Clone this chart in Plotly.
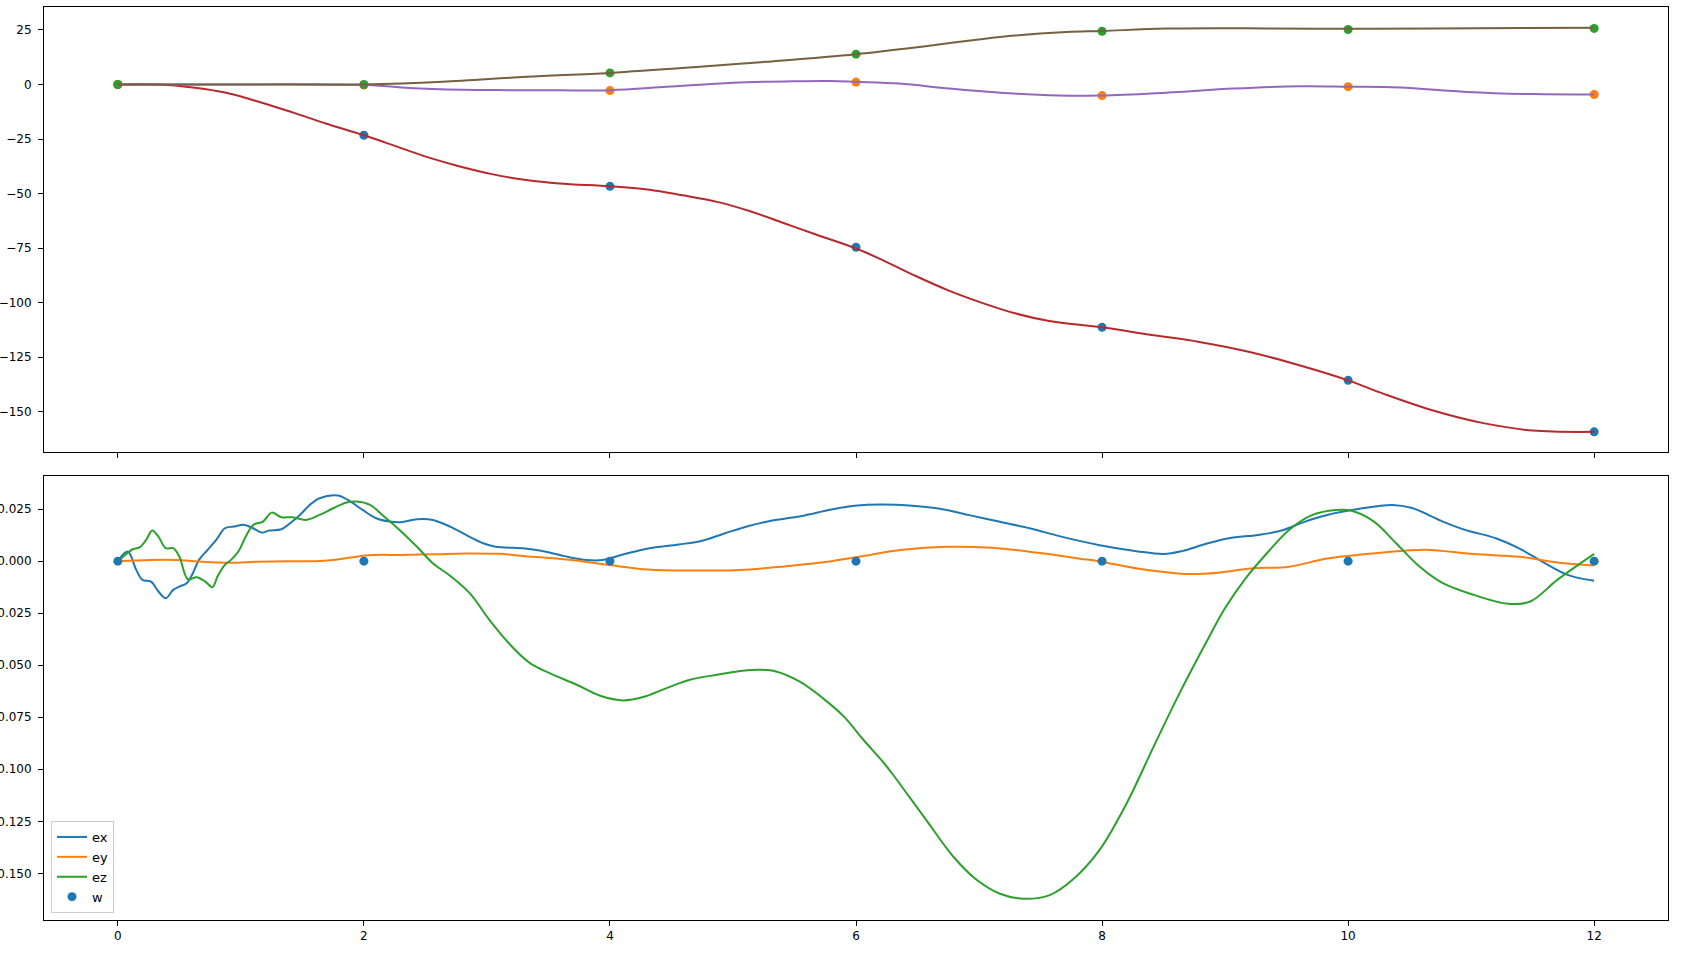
import plotly.graph_objects as go

# ---------------- data ----------------
# waypoints (top panel scatter), x positions
t_way = [0, 2, 4, 6, 8, 10, 12]
wx_pts = [0, -23.3, -46.7, -74.6, -111.3, -135.6, -159.2]
wy_pts = [0, -0.3, -2.8, 1.1, -5.1, -1.0, -4.6]
wz_pts = [0, 0, 5.3, 13.9, 24.4, 25.2, 25.7]

# top panel curves
tx_line = [0, 0.34, 0.61, 0.88, 1.15, 1.42, 1.69, 2.0, 2.24, 2.51, 2.78, 3.05, 3.32, 3.59, 4.0,
           4.32, 4.59, 4.87, 5.14, 5.41, 5.68, 6.0, 6.22, 6.49, 6.76, 7.03, 7.3, 7.57, 8.0,
           8.39, 8.79, 9.2, 9.61, 10.0, 10.29, 10.69, 11.1, 11.5, 12.0]
wx_line = [0, 0, -1.4, -3.8, -8.0, -12.8, -17.9, -23.3, -27.9, -33.2, -37.6, -41.2, -43.8, -45.4, -46.7,
           -48.2, -50.8, -53.8, -58.1, -63.5, -68.9, -75.2, -80.6, -87.9, -94.6, -100.2, -105.0, -108.4, -111.3,
           -114.7, -118.0, -122.6, -128.8, -135.6, -141.8, -149.4, -155.2, -158.6, -159.2]

ty_line = [0, 1.0, 2.0, 2.37, 2.8, 3.18, 3.6, 4.0, 4.46, 5.0, 5.5, 5.8, 6.0, 6.35, 6.76, 7.17, 7.57, 8.0,
           8.52, 9.07, 9.61, 10.0, 10.42, 10.96, 11.5, 12.0]
wy_line = [0, 0, -0.1, -1.6, -2.4, -2.6, -2.7, -2.6, -1.1, 0.8, 1.5, 1.6, 1.2, 0.4, -1.9, -3.8, -4.9, -5.1,
           -3.8, -1.9, -0.8, -1.0, -1.4, -3.4, -4.4, -4.6]

tz_line = [0, 1.0, 2.0, 2.64, 3.32, 4.0, 4.73, 5.27, 6.0, 6.63, 7.17, 7.71, 8.0, 8.52, 9.34, 10.0, 10.69, 12.0]
wz_line = [0, 0, 0, 1.2, 3.5, 5.3, 8.1, 10.4, 13.9, 18.0, 21.8, 24.0, 24.5, 25.6, 25.7, 25.5, 25.7, 26.0]

# bottom panel curves
t_ex = [0, 0.08, 0.15, 0.2, 0.27, 0.33, 0.39, 0.45, 0.5, 0.56, 0.61, 0.66, 0.73, 0.8, 0.87, 0.94, 1.03,
        1.1, 1.17, 1.23, 1.33, 1.4, 1.48, 1.56, 1.64, 1.79, 1.87, 1.99, 2.1, 2.21, 2.3, 2.43, 2.56, 2.7,
        2.83, 2.97, 3.07, 3.31, 3.44, 3.63, 3.81, 3.94, 4.12, 4.31, 4.56, 4.75, 4.93, 5.12, 5.31, 5.55,
        5.8, 5.99, 6.21, 6.43, 6.67, 6.92, 7.17, 7.42, 7.66, 7.97, 8.28, 8.5, 8.65, 8.84, 9.03, 9.27,
        9.46, 9.65, 9.83, 10.08, 10.36, 10.52, 10.77, 10.95, 11.2, 11.39, 11.58, 11.79, 12.0]
ex = [0, 0.0046, -0.0042, -0.009, -0.0098, -0.0146, -0.0178, -0.0138, -0.0122, -0.0106, -0.0058, 0.0006,
      0.0054, 0.0102, 0.0158, 0.0166, 0.0174, 0.0158, 0.0137, 0.0147, 0.0153, 0.0182, 0.0222, 0.027, 0.0302,
      0.0315, 0.0294, 0.0246, 0.0206, 0.019, 0.0187, 0.0201, 0.0198, 0.0166, 0.0126, 0.0086, 0.0069, 0.0061,
      0.005, 0.0024, 0.0005, 0.0005, 0.0034, 0.0061, 0.008, 0.0098, 0.0133, 0.0168, 0.0194, 0.0216, 0.0248,
      0.0266, 0.0272, 0.0267, 0.0253, 0.0221, 0.0189, 0.0157, 0.0119, 0.0078, 0.0048, 0.0034, 0.0048,
      0.0082, 0.011, 0.0126, 0.0147, 0.019, 0.0222, 0.025, 0.027, 0.0255, 0.019, 0.015, 0.011, 0.0061,
      -0.0003, -0.0067, -0.0094]

t_ey = [0, 0.26, 0.47, 0.66, 0.91, 1.13, 1.37, 1.61, 1.75, 1.91, 2.07, 2.29, 2.56, 2.83, 3.1, 3.31,
        3.69, 4.0, 4.31, 4.68, 5.06, 5.43, 5.8, 6.05, 6.36, 6.74, 7.11, 7.48, 7.66, 7.82, 7.97, 8.34,
        8.71, 8.96, 9.21, 9.52, 9.83, 10.15, 10.46, 10.64, 11.02, 11.39, 11.7, 12.0]
ey = [0, 0.0006, 0.0006, -0.0002, -0.0008, -0.0003, 0, 0, 0.0006, 0.0019, 0.0029, 0.003, 0.0033, 0.0037,
      0.0035, 0.0024, 0.0005, -0.0019, -0.004, -0.0045, -0.0043, -0.0024, 0, 0.0024, 0.0053, 0.0069,
      0.0064, 0.004, 0.0026, 0.0012, 0, -0.004, -0.0062, -0.0054, -0.0035, -0.0027, 0.0013, 0.0034,
      0.005, 0.0055, 0.0034, 0.0021, -0.0006, -0.0021]

t_ez = [0, 0.07, 0.12, 0.18, 0.23, 0.28, 0.33, 0.39, 0.45, 0.5, 0.57, 0.64, 0.71, 0.77, 0.81, 0.87,
        0.92, 0.98, 1.04, 1.1, 1.18, 1.25, 1.33, 1.42, 1.53, 1.64, 1.75, 1.86, 1.94, 2.05, 2.15, 2.29,
        2.43, 2.56, 2.7, 2.86, 3.02, 3.19, 3.35, 3.51, 3.73, 3.92, 4.11, 4.27, 4.46, 4.65, 4.87, 5.08,
        5.22, 5.35, 5.54, 5.73, 5.9, 6.06, 6.22, 6.3, 6.43, 6.57, 6.79, 6.98, 7.17, 7.37, 7.58, 7.76, 7.98,
        8.2, 8.42, 8.63, 8.85, 9.0, 9.17, 9.34, 9.52, 9.71, 9.9, 10.02, 10.21, 10.39, 10.58, 10.77,
        11.02, 11.3, 11.48, 11.7, 12.0]
ez = [0, 0.0035, 0.0057, 0.0067, 0.0102, 0.0147, 0.0118, 0.0062, 0.0062, 0.0022, -0.0087, -0.0077,
      -0.0098, -0.0125, -0.0074, -0.0018, 0.0006, 0.0046, 0.0118, 0.0174, 0.019, 0.0233, 0.0211, 0.0211,
      0.0198, 0.0222, 0.0254, 0.0282, 0.0286, 0.027, 0.0222, 0.015, 0.007, -0.001, -0.007, -0.0154,
      -0.0282, -0.0402, -0.049, -0.0538, -0.0594, -0.0647, -0.0669, -0.0653, -0.061, -0.057, -0.0546,
      -0.0527, -0.0522, -0.053, -0.0578, -0.0658, -0.0746, -0.0858, -0.0965, -0.1025, -0.113, -0.1243, -0.1419,
      -0.1531, -0.1598, -0.1622, -0.1603, -0.1531, -0.1387, -0.1163, -0.089, -0.0634, -0.0386, -0.0225,
      -0.008, 0.0038, 0.015, 0.0222, 0.0246, 0.0243, 0.019, 0.0086, -0.0026, -0.0106, -0.0162, -0.0205,
      -0.0194, -0.009, 0.0035]

w_zero = [0, 0, 0, 0, 0, 0, 0]

x_ticks = [0, 2, 4, 6, 8, 10, 12]
top_ticks = [-150, -125, -100, -75, -50, -25, 0, 25]
bot_ticks = [-0.150, -0.125, -0.100, -0.075, -0.050, -0.025, 0.000, 0.025]

# ---------------- figure ----------------
C0, C1, C2 = "#1f77b4", "#ff7f0e", "#2ca02c"
C3, C4, C5 = "#b8292c", "#9467bd", "#75603f"
W, H = 1681, 958
fig = go.Figure()

mk = 9
lw = 2
# top panel: waypoints then curves
for ys, c in [(wx_pts, C0), (wy_pts, C1), (wz_pts, C2)]:
    fig.add_trace(go.Scatter(x=t_way, y=ys, mode="markers", marker=dict(color=c, size=mk),
                             showlegend=False, xaxis="x", yaxis="y"))
for xs, ys, c in [(tx_line, wx_line, C3), (ty_line, wy_line, C4), (tz_line, wz_line, C5)]:
    fig.add_trace(go.Scatter(x=xs, y=ys, mode="lines", line=dict(color=c, width=lw, shape="spline"),
                             showlegend=False, xaxis="x", yaxis="y"))

# bottom panel
for xs, ys, c, name in [(t_ex, ex, C0, "ex"), (t_ey, ey, C1, "ey"), (t_ez, ez, C2, "ez")]:
    fig.add_trace(go.Scatter(x=xs, y=ys, mode="lines", name=name,
                             line=dict(color=c, width=lw, shape="spline"),
                             xaxis="x2", yaxis="y2"))
fig.add_trace(go.Scatter(x=t_way, y=w_zero, mode="markers", name="w",
                         marker=dict(color=C0, size=mk), xaxis="x2", yaxis="y2"))

xd = [44 / W, 1668 / W]
axis_common = dict(showline=True, linecolor="black", linewidth=1, mirror=True, showgrid=False,
                   zeroline=False, ticks="outside", ticklen=5, tickwidth=1, tickcolor="black",
                   automargin=False, tickfont=dict(family="DejaVu Sans", size=12, color="black"))

fig.update_layout(
    width=W, height=H,
    margin=dict(l=0, r=0, t=0, b=0),
    paper_bgcolor="white", plot_bgcolor="white",
    font=dict(family="DejaVu Sans", size=12, color="black"),
    xaxis=dict(domain=xd, range=[-0.6, 12.6], tickvals=x_ticks, showticklabels=False,
               anchor="y", **axis_common),
    yaxis=dict(domain=[1 - 451.7 / H, 1 - 7 / H], range=[-168.3, 35.5], tickvals=top_ticks,
               anchor="x", ticklabelstandoff=4, **axis_common),
    xaxis2=dict(domain=xd, range=[-0.6, 12.6], tickvals=x_ticks, anchor="y2", **axis_common),
    yaxis2=dict(domain=[1 - 920 / H, 1 - 476 / H], range=[-0.1724, 0.0409], tickvals=bot_ticks,
                tickformat=".3f", anchor="x2", ticklabelstandoff=4, **axis_common),
    legend=dict(x=51 / W, y=1 - 913 / H, xanchor="left", yanchor="bottom",
                bgcolor="rgba(255,255,255,0.8)", bordercolor="#cccccc", borderwidth=1,
                font=dict(family="DejaVu Sans", size=13, color="black"),
                tracegroupgap=0, itemwidth=30),
    showlegend=True,
)

fig.write_html("out.html", config={"displayModeBar": False},
               post_script="document.body.style.margin='0';document.body.style.overflow='hidden';")
